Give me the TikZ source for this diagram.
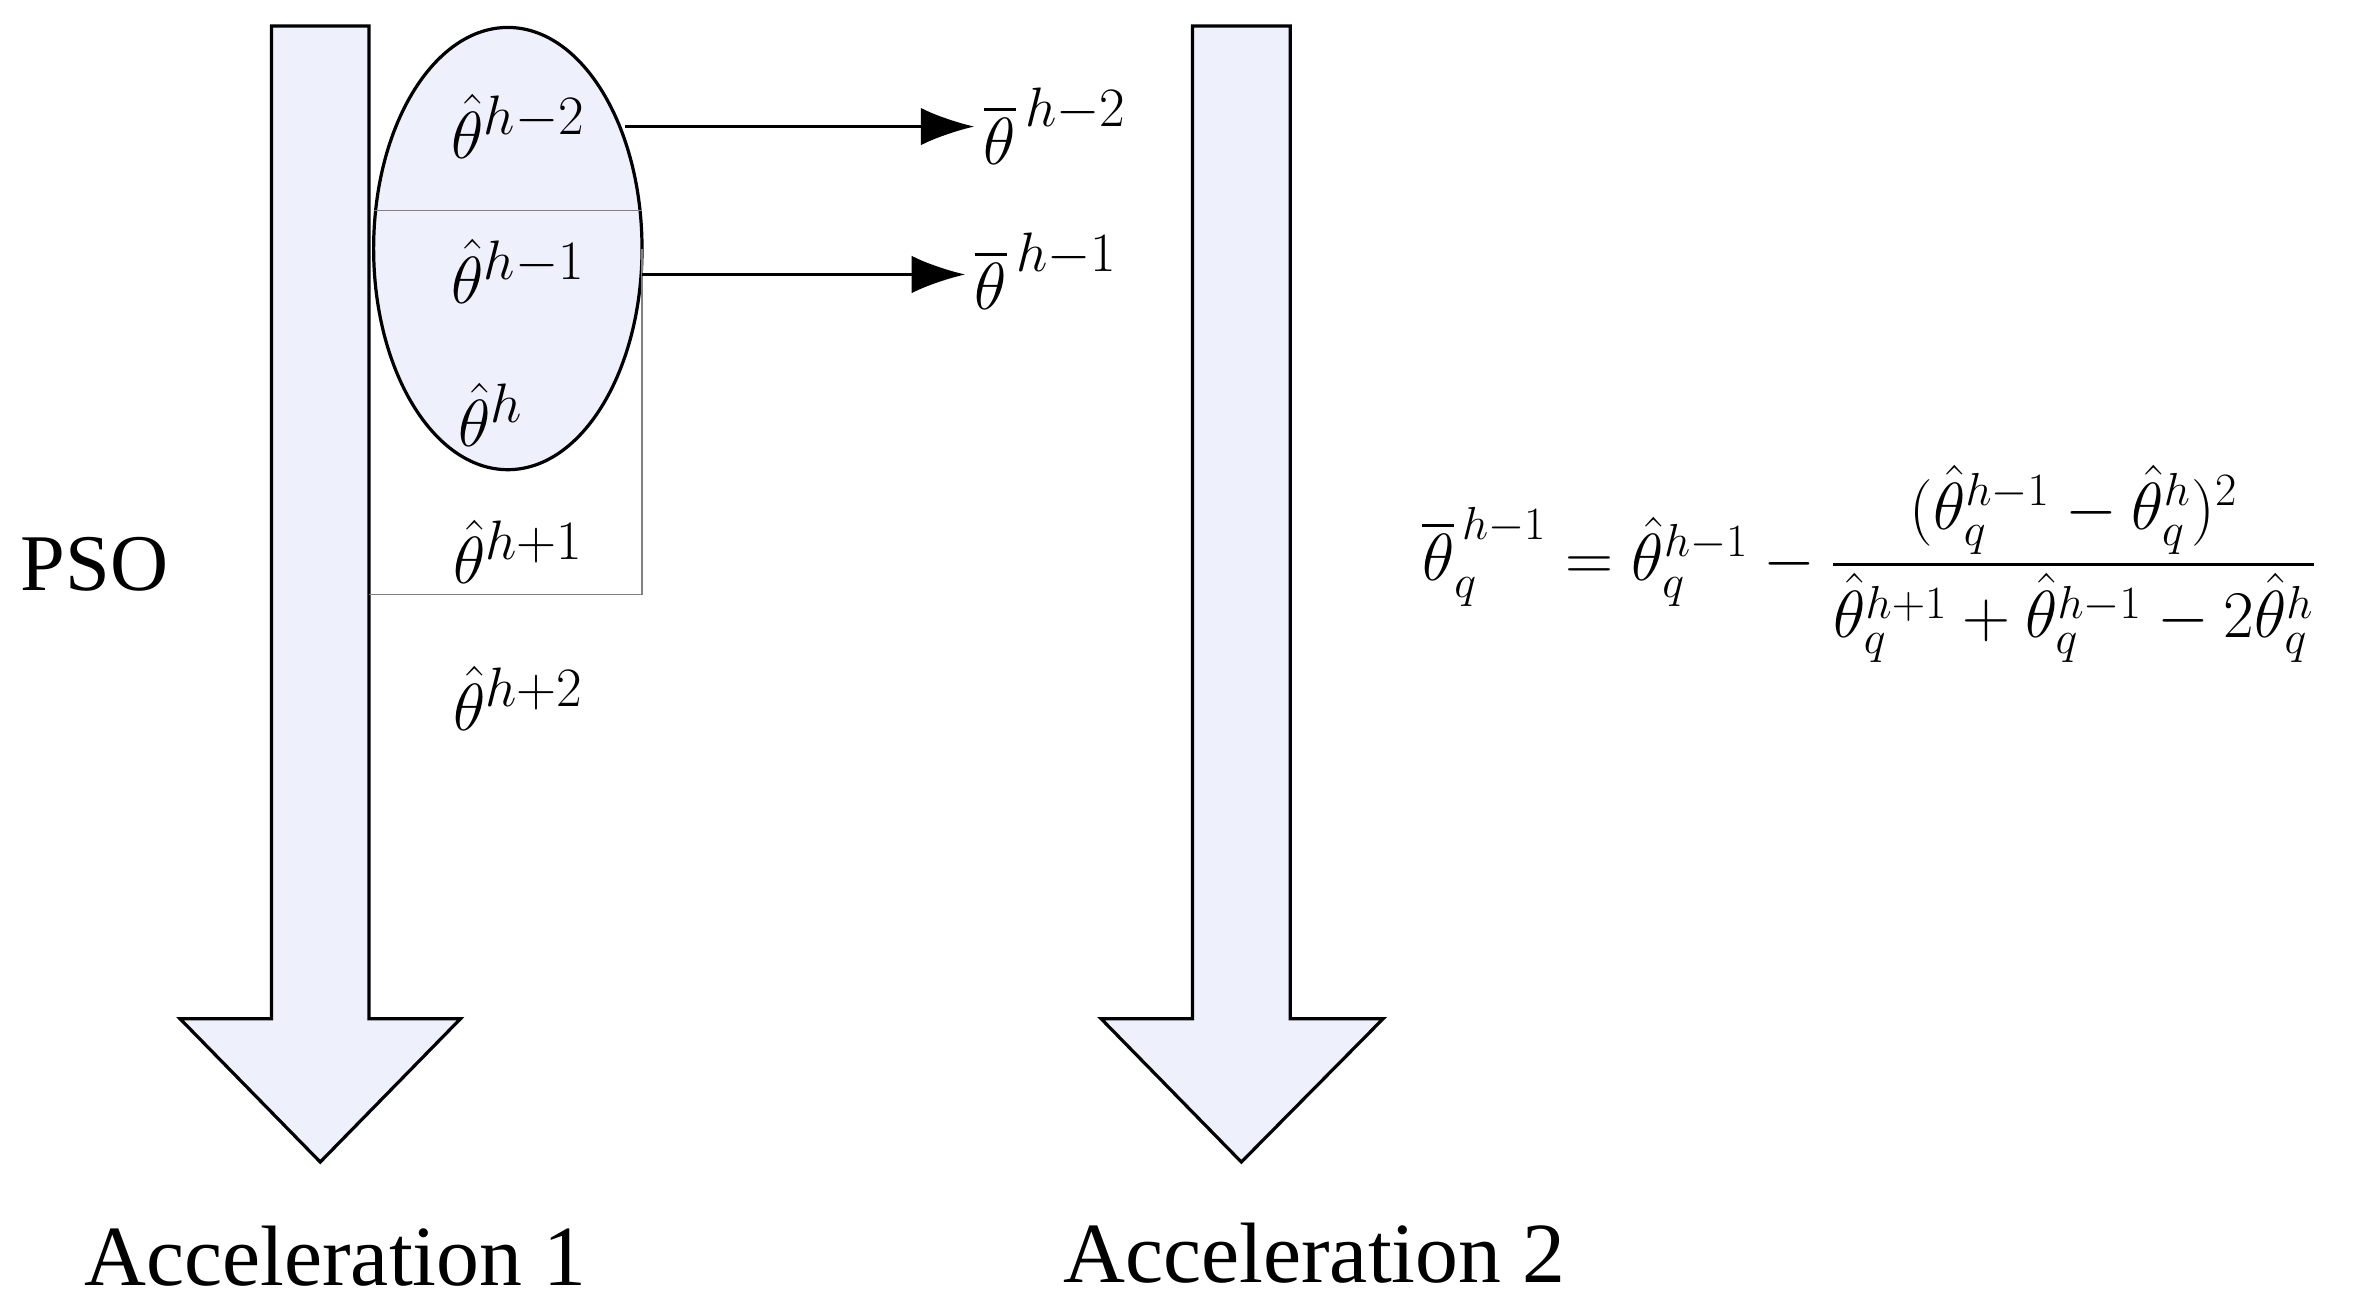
\documentclass[tikz,border=0pt]{standalone}
\usepackage{amsmath}
\usepackage{fontspec}
\setmainfont{Liberation Serif}
\usetikzlibrary{arrows.meta}
\definecolor{fillb}{RGB}{238,241,252}
\begin{document}
\begin{tikzpicture}[x=0.02cm,y=-0.02cm,
  bigarrow/.style={draw=black,fill=fillb,line width=1.2pt},
  thin/.style={draw=gray,line width=0.5pt},
  lab/.style={font=\fontsize{30}{36}\selectfont},
  conn/.style={line width=1.2pt,-{Latex[length=20pt,width=14pt]}}]
\useasboundingbox (0,0) rectangle (1560,857);
\draw[bigarrow] (178,17) -- (242,17) -- (242,668) -- (302,668) -- (210,762) -- (118,668) -- (178,668) -- cycle;
\draw[bigarrow] (782,17) -- (846,17) -- (846,668) -- (907,668) -- (814,762) -- (722,668) -- (782,668) -- cycle;
\draw[line width=1.2pt,fill=fillb] (333,163) ellipse [x radius=88,y radius=145];
\coordinate (l1) at (245,138); \coordinate (l2) at (421,138);
\draw[thin] (l1) -- (l2);
\coordinate (r1) at (421,163); \coordinate (r2) at (421,390); \coordinate (r3) at (242,390);
\draw[thin] (r1) -- (r2) -- (r3);
\node[lab] (t2) at (340,83) {$\hat\theta^{h-2}$};
\node[lab] (t1) at (340,178) {$\hat\theta^{h-1}$};
\node[lab] (t0) at (322,272) {$\hat\theta^{h}$};
\node[lab] (tp1) at (340,362) {$\hat\theta^{h+1}$};
\node[lab] (tp2) at (340,458) {$\hat\theta^{h+2}$};
\node[lab] (b2) at (692,83) {$\overline\theta^{\,h-2}$};
\node[lab] (b1) at (686,178) {$\overline\theta^{\,h-1}$};
\coordinate (s2) at (410,83); \coordinate (s1) at (421,180);
\draw[conn] (s2) -- (b2.west |- s2);
\draw[conn] (s1) -- (b1.west |- s1);
\node[font=\fontsize{30}{36}\selectfont] (pso) at (62,370) {PSO};
\node[font=\fontsize{26.5}{32}\selectfont] (f) at (1226,370) {$\overline\theta_q^{\,h-1}=\hat\theta_q^{h-1}-\dfrac{(\hat\theta_q^{h-1}-\hat\theta_q^{h})^2}{\hat\theta_q^{h+1}+\hat\theta_q^{h-1}-2\hat\theta_q^{h}}$};
\node[font=\fontsize{32}{38}\selectfont] (a1) at (220,824) {Acceleration 1};
\node[font=\fontsize{32}{38}\selectfont] (a2) at (862,822) {Acceleration 2};
\end{tikzpicture}
\end{document}
